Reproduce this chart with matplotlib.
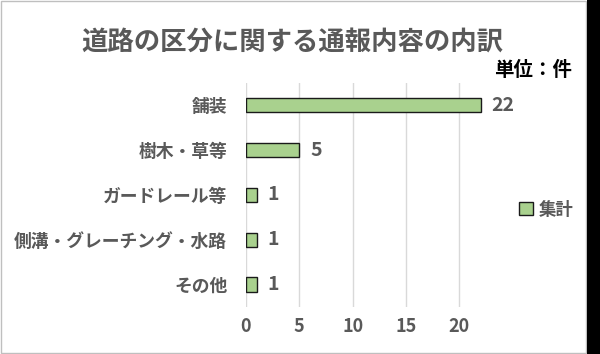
import matplotlib
matplotlib.use("Agg")
import matplotlib.pyplot as plt
from matplotlib.patches import Rectangle

plt.rcParams['font.family'] = ['Noto Sans CJK JP', 'DejaVu Sans']

categories = ['舗装', '樹木・草等', 'ガードレール等', '側溝・グレーチング・水路', 'その他']
values = [22, 5, 1, 1, 1]
xticks = [0, 5, 10, 15, 20]
title = '道路の区分に関する通報内容の内訳'
unit = '単位：件'
legend_label = '集計'

gray = '#595959'
fig = plt.figure(figsize=(6, 3.54), dpi=100)
ax = fig.add_axes([0.41, 0.133, 0.40, 0.633])

y = list(range(len(categories)))
bars = ax.barh(y, values, height=0.32, color='#A9D18E', edgecolor='#1a1a1a',
               linewidth=1.0, label=legend_label, zorder=3)
ax.set_ylim(len(categories) - 0.5, -0.5)
ax.set_xlim(0, 22.5)
ax.set_yticks(y)
ax.set_yticklabels(categories, fontsize=12.8, fontweight='bold', color=gray)
ax.set_xticks(xticks)
ax.set_xticklabels([str(t) for t in xticks], fontsize=13, fontweight='bold', color=gray)
ax.tick_params(axis='y', length=0, pad=13.5)
ax.tick_params(axis='x', length=0, pad=7.5)
ax.grid(axis='x', color='#D9D9D9', linewidth=1, zorder=0)
for s in ax.spines.values():
    s.set_visible(False)

for yi, v in zip(y, values):
    ax.text(v + 1.0, yi, str(v), va='center', ha='left', fontsize=14,
            fontweight='bold', color=gray)

fig.text(0.488, 0.882, title, ha='center', va='center', fontsize=19,
         fontweight='bold', color=gray)
fig.text(0.953, 0.802, unit, ha='right', va='center', fontsize=14,
         fontweight='bold', color='black')

leg = fig.legend(handles=[bars], labels=[legend_label], loc='center left',
                 bbox_to_anchor=(0.865, 0.408), frameon=False,
                 prop={'weight': 'bold', 'size': 12.5}, handlelength=0.8,
                 handleheight=0.8, handletextpad=0.35, borderpad=0, borderaxespad=0)
for t in leg.get_texts():
    t.set_color(gray)

# chart border and right dark strip
fig.patches.append(Rectangle((0.001, 0.003), 0.975, 0.994, transform=fig.transFigure,
                             fill=False, edgecolor='#BFBFBF', linewidth=1))
fig.patches.append(Rectangle((0.978, 0), 0.022, 1, transform=fig.transFigure,
                             facecolor='black', edgecolor='none'))

fig.savefig('out.png', dpi=100)
